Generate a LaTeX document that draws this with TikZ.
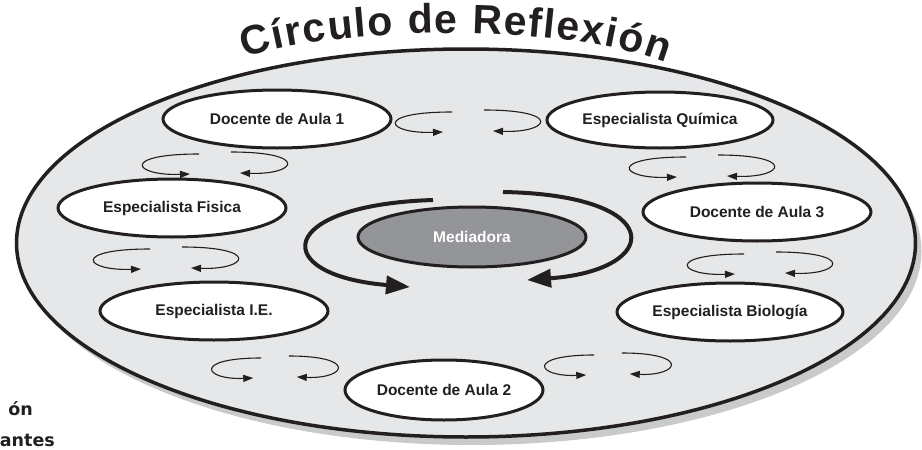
\documentclass[tikz,border=0pt]{standalone}
\usepackage{fontspec}
\setmainfont{Liberation Sans}
\newfontfamily\notafont{DejaVu Sans}
\usetikzlibrary{arrows.meta, shapes.geometric, positioning, decorations.text}

\definecolor{tinta}{HTML}{231F20}
\definecolor{fondo}{HTML}{E6E7E8}
\definecolor{sombra}{HTML}{C9CACC}
\definecolor{mediagris}{HTML}{939598}

\tikzset{
  actor/.style={ellipse, draw=tinta, line width=3pt, fill=white, inner sep=0pt,
    minimum width=228pt, minimum height=58pt, text=tinta,
    font=\fontsize{15.5}{18}\selectfont\bfseries},
  giro/.style={draw=tinta, line width=1.1pt, -{Triangle[length=10pt,width=7pt]}},
  flujo/.style={draw=tinta, line width=4pt, -{Triangle[length=24pt,width=18pt]}},
  pics/vuelta/.style={code={
    \draw[giro] ({-16*#1},0) .. controls ({-95*#1},0) and ({-82*#1},22) .. ({-25*#1},20);
    \draw[giro] ({16*#1},-2) .. controls ({95*#1},-2) and ({82*#1},21) .. ({25*#1},19);
  }}
}

\begin{document}
\begin{tikzpicture}[x=1pt, y=-1pt]
  \useasboundingbox (0,0) rectangle (922,450);
  \clip (0,0) rectangle (922,450);

  % circulo grande con sombra
  \node[ellipse, fill=sombra, minimum width=899pt, minimum height=388pt, inner sep=0pt]
    (sombra) at (472,251) {};
  \node[ellipse, draw=tinta, line width=3.5pt, fill=fondo, minimum width=899pt,
        minimum height=388pt, inner sep=0pt] (circulo) at (466,243) {};

  % titulo
  \path[decorate, decoration={text along path, text align=fit to path,
        text={|\fontsize{41}{41}\selectfont\bfseries\color{tinta}|Círculo de Reflexión}}]
    (245,58) .. controls (330,27) and (560,21) .. (666,63);

  % participantes
  \node[actor] (aula1) at (277,119) {Docente de Aula 1};
  \node[actor, minimum width=226pt, minimum height=56pt] (quimica) at (660,120) {Especialista Química};
  \node[actor] (fisica) at (172,208) {Especialista Fisica};
  \node[actor] (aula3) at (757,212) {Docente de Aula 3};
  \node[actor, fill=mediagris, text=white, minimum height=60pt] (mediadora) at (472,237) {Mediadora};
  \node[actor] (ie) at (214,311) {Especialista I.E.};
  \node[actor, minimum width=226pt] (biologia) at (730,312) {Especialista Biología};
  \node[actor, minimum width=198pt, minimum height=60pt] (aula2) at (444,390) {Docente de Aula 2};

  % giros pequenos
  \foreach \cx/\cy/\k in {468/112/1, 215/154/1, 166/249/1, 702/157/1,
                          760/254/1, 275/358/0.87, 608/355/0.87}
    \pic at (\cx,\cy) {vuelta=\k};

  % giro central
  \draw[flujo] (433,200) .. controls (275,205) and (268,275) .. (410,287);
  \draw[flujo] (503,192) .. controls (668,195) and (663,270) .. (527,280);

  % texto cortado
  \node[anchor=base east, inner sep=0pt, text=tinta,
        font=\notafont\fontsize{17.5}{20}\selectfont\bfseries] (on) at (33,415) {ón};
  \node[anchor=base east, inner sep=0pt, text=tinta,
        font=\notafont\fontsize{17.5}{20}\selectfont\bfseries] (antes) at (55,446) {antes};
\end{tikzpicture}
\end{document}
